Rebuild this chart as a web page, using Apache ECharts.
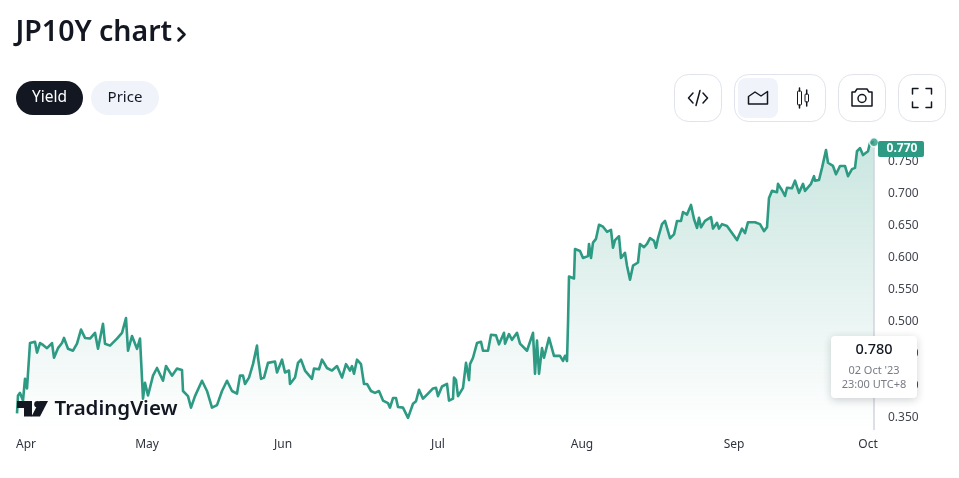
<!DOCTYPE html>
<html><head><meta charset="utf-8">
<style>html,body{margin:0;padding:0;background:#fff}#c{width:959px;height:478px}</style>
<script src="https://cdn.jsdelivr.net/npm/echarts@6/dist/echarts.min.js"></script>
</head><body><div id="c"></div>
<script>
const title = "JP10Y chart";
const monthNames = ["Apr","May","Jun","Jul","Aug","Sep","Oct"];
const monthBars = [9,130,266,421,565,717,851];
const yTicks = [0.35,0.40,0.45,0.50,0.55,0.60,0.65,0.70,0.75];
const closeTag = "0.770";
const lastValue = "0.780";
const lastDate = "02 Oct '23";
const lastTime = "23:00 UTC+8";
const bars = [0,1,3,6,8,10,13,18,20,23,26,30,35,37,41,45,47,51,56,60,64,68,73,78,81,86,88,93,100,105,109,111,115,120,123,126,128,131,136,140,146,149,155,160,165,166,171,174,178,185,190,195,200,205,210,215,220,223,
226,228,232,236,240,241,244,247,251,258,260,265,268,272,273,278,281,284,288,295,297,302,305,310,315,320,325,329,333,335,337,340,344,347,350,354,358,362,366,371,373,376,379,381,386,391,396,399,402,406,411,416,419,421,425,430,432,436,437,439,441,446,449,452,453,456,460,464,466,471,474,479,482,487,488,492,495,500,503,510,516,518,520,522,525,527,532,537,543,546,548,550,551,552,554,557,558,563,566,571,572,574,576,579,582,586,590,594,596,598,602,604,608,610,613,616,621,623,627,630,633,637,639,641,645,648,653,657,660,664,666,670,674,677,680,682,684,688,694,696,700,702,705,710,715,720,725,728,731,738,743,747,750,752,755,760,761,765,768,770,775,778,782,786,788,794,797,798,802,805,809,811,816,819,823,828,831,835,838,840,843,846,851,853,857];
const yields = [.356,.384,.388,.376,.410,.395,.466,.468,.451,.466,.463,.458,.466,.443,.458,.466,.474,.457,.454,.465,.487,.474,.473,.482,.457,.496,.465,.462,.473,.482,.505,.454,.477,.457,.473,.379,.404,.384,.415,.427,.407,.430,.415,.426,.424,.391,.383,.365,.383,.407,.391,.365,.369,.391,.407,.391,.387,.415,
.415,.402,.412,.433,.462,.443,.410,.412,.435,.437,.420,.440,.420,.423,.402,.412,.435,.440,.423,.410,.426,.425,.440,.427,.423,.430,.412,.433,.423,.430,.418,.440,.433,.402,.402,.391,.388,.391,.376,.372,.365,.380,.380,.366,.365,.349,.371,.375,.393,.379,.387,.395,.396,.383,.398,.402,.376,.379,.412,.408,.383,.396,.435,.408,.433,.443,.466,.468,.454,.454,.479,.478,.464,.482,.465,.480,.471,.482,.465,.454,.482,.418,.470,.418,.458,.443,.474,.446,.446,.438,.446,.438,.496,.570,.573,.567,.613,.610,.599,.602,.621,.599,.623,.629,.651,.648,.640,.643,.615,.627,.633,.599,.607,.587,.565,.587,.592,.621,.616,.621,.630,.626,.615,.630,.652,.657,.630,.636,.657,.657,.671,.667,.682,.660,.646,.662,.647,.657,.663,.645,.654,.645,.652,.649,.638,.627,.645,.638,.655,.655,.652,.641,.647,.693,.704,.702,.715,.705,.696,.709,.708,.720,.701,.715,.704,.715,.727,.720,.721,.740,.768,.748,.743,.730,.743,.743,.727,.738,.740,.766,.771,.760,.766,.779,.780];

const GREEN = '#2d9a83', INK = '#131722', FONT = '"Noto Sans", sans-serif';
const ring = (x,y,w,h,r,fill,stroke) => ({type:'rect',z:50,shape:{x,y,width:w,height:h,r},style:{fill:fill||'#fff',stroke:stroke||null,lineWidth:1}});
const pl = (pts,w,fill) => ({type:'polyline',z:60,shape:{points:pts},style:{stroke:fill?null:INK,fill:fill||null,lineWidth:w||1.5,lineCap:'round',lineJoin:'round'}});
const txt = (x,y,text,size,color,weight,align) => ({type:'text',z:120,x,y,style:{text,font:`${weight||400} ${size}px ${FONT}`,fill:color,align:align||'left',verticalAlign:'middle'}});

const chart = echarts.init(document.getElementById('c'),null,{renderer:'canvas'});
const graphics = [
  txt(15.5,33,title,28.5,INK,600),
  pl([[178.5,28.5],[184.5,34.5],[178.5,40.5]],2.6),
  ring(16,81,67,34,17,INK),
  txt(49.5,97.5,"Yield",15.5,'#fff',400,'center'),
  ring(91,81,68,34,17,'#f0f3fa'),
  txt(125,97.5,"Price",15,INK,400,'center'),
  ring(674.5,74.5,47,47,14,'#fff','#e0e3eb'),
  pl([[693,93],[688.5,98],[693,103]]),pl([[703,93],[707.5,98],[703,103]]),pl([[700,90.5],[696,105.5]]),
  ring(734.5,74.5,91,47,14,'#fff','#e0e3eb'),
  ring(738,78,40,40,8,'#f0f3fa'),
  pl([[748.5,104],[748.5,96.5],[755,92],[761,96],[767.5,91.5],[767.5,104],[748.5,104]]),
  ring(797.5,91,4,14,1,null,INK),pl([[799.5,88],[799.5,91]]),pl([[799.5,105],[799.5,108]]),
  ring(805,94,3.5,8,1,null,INK),pl([[806.7,90],[806.7,94]]),pl([[806.7,102],[806.7,106]]),
  ring(838.5,74.5,47,47,14,'#fff','#e0e3eb'),
  pl([[852,92],[855,92],[857,89],[867,89],[869,92],[872,92],[872,106],[852,106],[852,92]]),
  {type:'circle',z:60,shape:{cx:862,cy:98.5,r:4},style:{fill:null,stroke:INK,lineWidth:1.5}},
  ring(898.5,74.5,47,47,14,'#fff','#e0e3eb'),
  pl([[912.5,94],[912.5,88.5],[918,88.5]]),pl([[926,88.5],[931.5,88.5],[931.5,94]]),
  pl([[912.5,102],[912.5,107.5],[918,107.5]]),pl([[926,107.5],[931.5,107.5],[931.5,102]]),
  // logo
  pl([[17,401],[32,401],[32,416.5],[24,416.5],[24,408],[17,408]],0,INK),
  {type:'circle',z:60,shape:{cx:37.5,cy:404.3,r:3.3},style:{fill:INK}},
  pl([[39.5,401],[48,401],[40,416.5],[31.5,416.5]],0,INK),
  txt(54.5,409.5,"TradingView",20.5,INK,600),
  // last price tag
  ring(878,141,46,16,2,GREEN),
  txt(902,149,closeTag,12,'#fff',700,'center'),
  // tooltip
  {type:'rect',z:100,shape:{x:831,y:336,width:86,height:62,r:4},style:{fill:'#fff',shadowBlur:8,shadowColor:'rgba(19,23,34,0.2)',shadowOffsetY:2}},
  txt(874,350,lastValue,14.5,INK,500,'center'),
  txt(874,371,lastDate,11,'#787b86',400,'center'),
  txt(874,385,lastTime,11,'#787b86',400,'center')
];
chart.setOption({
  animation:false,
  textStyle:{fontFamily:FONT},
  grid:{left:17,right:85,top:129.5,bottom:48,containLabel:false},
  xAxis:{type:'value',min:0,max:857,splitLine:{show:false},axisLine:{show:false},
    axisTick:{show:false},
    axisLabel:{customValues:monthBars,margin:9,fontSize:12,color:'#2f333e',
      showMinLabel:true,showMaxLabel:true,hideOverlap:false,
      formatter:v=>monthNames[monthBars.indexOf(v)]}},
  yAxis:{type:'value',position:'right',min:0.33,max:0.8,splitLine:{show:false},axisLine:{show:false},
    axisTick:{show:false},
    axisLabel:{customValues:yTicks,margin:14,fontSize:12,color:'#42464f',formatter:v=>v.toFixed(3)}},
  series:[
    {type:'line',data:bars.map((b,i)=>[b,yields[i]]),showSymbol:false,symbol:'none',clip:false,
      lineStyle:{color:GREEN,width:2.6,join:'round'},
      areaStyle:{origin:'start',color:new echarts.graphic.LinearGradient(0,0,0,1,[
        {offset:0,color:'rgba(45,154,131,0.36)'},{offset:1,color:'rgba(45,154,131,0)'}])},
      markLine:{silent:true,symbol:'none',label:{show:false},lineStyle:{color:'#d1d4dc',width:1.5,type:'solid'},
        data:[[{coord:[857,yields[yields.length-1]]},{coord:[857,0.33]}]]}},
    {type:'scatter',data:[[bars[bars.length-1],yields[yields.length-1]]],symbol:'circle',symbolSize:9,clip:false,z:5,
      itemStyle:{color:GREEN,borderColor:'#fff',borderWidth:1.5}}
  ],
  graphic:{elements:graphics}
});
</script></body></html>
